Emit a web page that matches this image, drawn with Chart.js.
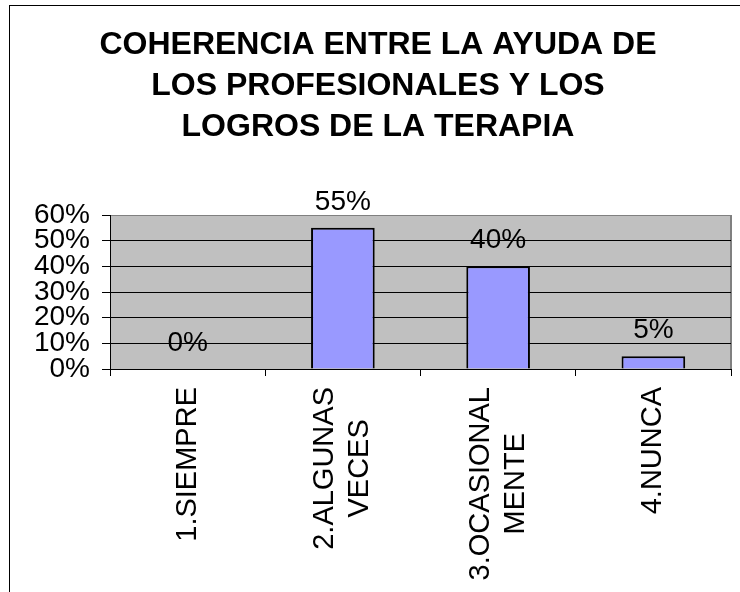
<!DOCTYPE html>
<html>
<head>
<meta charset="utf-8">
<script src="https://cdn.jsdelivr.net/npm/chart.js@4"></script>
<style>
  body { margin: 0; background: #fff; }
  #wrap { position: relative; width: 740px; height: 592px; overflow: hidden; }
  #frame { position: absolute; left: 9px; top: 5px; right: -2px; bottom: -2px; border-left: 1px solid #000; border-top: 1px solid #000; pointer-events: none; }
  canvas { position: absolute; left: 0; top: 0; }
</style>
</head>
<body>
<div id="wrap">
  <canvas id="chart" width="740" height="592"></canvas>
  <div id="frame"></div>
</div>
<script>
// --- Data -----------------------------------------------------
const titleLines = ['COHERENCIA ENTRE LA AYUDA DE', 'LOS PROFESIONALES Y LOS', 'LOGROS DE LA TERAPIA'];
const categories = [['1.SIEMPRE'], ['2.ALGUNAS', 'VECES'], ['3.OCASIONAL', 'MENTE'], ['4.NUNCA']];
const percentages = [0, 55, 40, 5];
const yTicks = [0, 10, 20, 30, 40, 50, 60];

Chart.defaults.font.family = "'Liberation Sans', Arial, sans-serif";
Chart.defaults.color = '#000';

// grey plot background + right edge
const plotBackground = {
  id: 'plotBackground',
  beforeDraw(chart) {
    const { ctx, chartArea: a } = chart;
    ctx.save();
    ctx.fillStyle = '#c0c0c0';
    ctx.fillRect(a.left, a.top, a.right - a.left, a.bottom - a.top);
    ctx.strokeStyle = '#808080';
    ctx.lineWidth = 2;
    ctx.beginPath();
    ctx.moveTo(a.right, a.top);
    ctx.lineTo(a.right, a.bottom);
    ctx.stroke();
    ctx.restore();
  }
};

// value labels above the bars
const valueLabels = {
  id: 'valueLabels',
  afterDatasetsDraw(chart) {
    const { ctx } = chart;
    const meta = chart.getDatasetMeta(0);
    ctx.save();
    ctx.font = "28px 'Liberation Sans', Arial, sans-serif";
    ctx.fillStyle = '#000';
    ctx.textAlign = 'center';
    ctx.textBaseline = 'alphabetic';
    meta.data.forEach((bar, i) => {
      ctx.fillText(percentages[i] + '%', bar.x, bar.y - 18);
    });
    ctx.restore();
  }
};

// rotated category labels, lines centred on each other
const rotatedLabels = {
  id: 'rotatedLabels',
  afterDraw(chart) {
    const { ctx } = chart;
    const xs = chart.scales.x;
    const lineH = 35;
    const top = xs.top + 18;
    ctx.save();
    ctx.font = "29px 'Liberation Sans', Arial, sans-serif";
    ctx.fillStyle = '#000';
    ctx.textAlign = 'center';
    ctx.textBaseline = 'middle';
    categories.forEach((lines, i) => {
      const cx = xs.getPixelForValue(i);
      const maxW = Math.max(...lines.map(l => ctx.measureText(l).width));
      lines.forEach((line, j) => {
        const lx = cx + (j - (lines.length - 1) / 2) * lineH;
        ctx.save();
        ctx.translate(lx, top + maxW / 2);
        ctx.rotate(-Math.PI / 2);
        ctx.fillText(line, 0, 0);
        ctx.restore();
      });
    });
    ctx.restore();
  }
};

new Chart(document.getElementById('chart'), {
  type: 'bar',
  data: {
    labels: categories,
    datasets: [{
      data: percentages,
      backgroundColor: '#9999ff',
      borderColor: '#000',
      borderWidth: 2,
      barPercentage: 0.41,
      categoryPercentage: 1
    }]
  },
  options: {
    responsive: false,
    animation: false,
    layout: { padding: { left: 25, right: 9, top: 0, bottom: 0 } },
    plugins: {
      legend: { display: false },
      tooltip: { enabled: false },
      title: {
        display: true,
        text: titleLines,
        color: '#000',
        font: { size: 32, weight: 'bold', lineHeight: 41 / 32 },
        padding: { top: 25, bottom: 67 }
      }
    },
    scales: {
      x: {
        grid: { drawOnChartArea: false, drawTicks: true, tickLength: 7, color: '#000', offset: true },
        border: { color: '#000', width: 1 },
        ticks: { display: false },
        afterFit: s => { s.height = 223; }
      },
      y: {
        min: 0,
        max: 60,
        afterBuildTicks: s => { s.ticks = yTicks.map(v => ({ value: v })); },
        grid: {
          color: c => (c.tick && c.tick.value === 60 ? '#808080' : '#000'),
          tickColor: '#000',
          tickLength: 8,
          lineWidth: 1
        },
        border: { color: '#000', width: 1 },
        ticks: {
          autoSkip: false,
          padding: 12,
          font: { size: 28 },
          callback: v => v + '%'
        },
        afterFit: s => { s.width = 85; }
      }
    }
  },
  plugins: [plotBackground, valueLabels, rotatedLabels]
});
</script>
</body>
</html>
